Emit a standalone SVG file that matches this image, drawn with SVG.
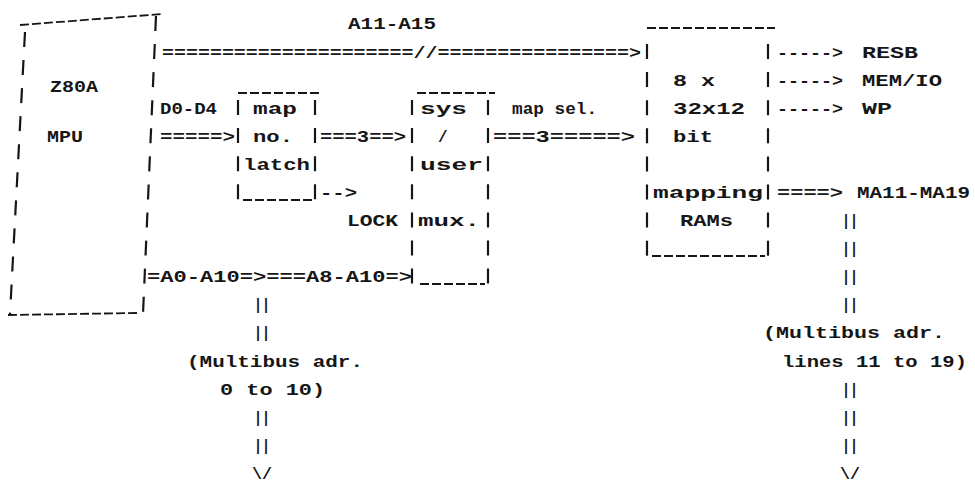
<svg xmlns="http://www.w3.org/2000/svg" width="975" height="494" viewBox="0 0 975 494">
<style>
.t{font-family:"Liberation Mono","DejaVu Sans Mono",monospace;font-size:16px;font-weight:bold;fill:#161616}
.w{stroke:#161616;stroke-width:2.2;fill:none;stroke-dasharray:15 13.1}
.h{stroke:#161616;stroke-width:1.8;fill:none;stroke-dasharray:9 3}
</style>
<rect width="975" height="494" fill="#fff"/>
<g id="z80a">
<line class="h" x1="20" y1="25" x2="162" y2="14"/>
<line class="w" x1="25" y1="32" x2="10" y2="314"/>
<line class="w" x1="156" y1="16" x2="143" y2="314"/>
<line class="h" x1="8" y1="315" x2="138" y2="313"/>
<text class="t" x="50" y="92" textLength="48" lengthAdjust="spacingAndGlyphs">Z80A</text>
<text class="t" x="47" y="142" textLength="36" lengthAdjust="spacingAndGlyphs">MPU</text>
</g>
<g id="map-latch">
<line class="h" x1="238" y1="93" x2="320" y2="93"/>
<line class="w" x1="238" y1="100" x2="238" y2="202"/>
<line class="w" x1="315" y1="100" x2="315" y2="202"/>
<line class="h" x1="243" y1="200" x2="312" y2="200"/>
<text class="t" x="253" y="114" textLength="44" lengthAdjust="spacingAndGlyphs">map</text>
<text class="t" x="253" y="142" textLength="40" lengthAdjust="spacingAndGlyphs">no.</text>
<text class="t" x="243" y="170" textLength="67" lengthAdjust="spacingAndGlyphs">latch</text>
</g>
<g id="sys-user-mux">
<line class="h" x1="417" y1="93" x2="495" y2="93"/>
<line class="w" x1="412" y1="100" x2="412" y2="286"/>
<line class="w" x1="488" y1="100" x2="488" y2="286"/>
<line class="h" x1="420" y1="284" x2="485" y2="284"/>
<text class="t" x="420" y="114" textLength="47" lengthAdjust="spacingAndGlyphs">sys</text>
<text class="t" x="438" y="142">/</text>
<text class="t" x="420" y="170" textLength="63" lengthAdjust="spacingAndGlyphs">user</text>
<text class="t" x="418" y="226" textLength="62" lengthAdjust="spacingAndGlyphs">mux.</text>
</g>
<g id="mapping-rams">
<line class="h" x1="647" y1="28" x2="775" y2="28"/>
<line class="w" x1="647" y1="44" x2="647" y2="258"/>
<line class="w" x1="768" y1="44" x2="768" y2="258"/>
<line class="h" x1="652" y1="256" x2="765" y2="256"/>
<text class="t" x="673" y="86" textLength="42" lengthAdjust="spacingAndGlyphs">8 x</text>
<text class="t" x="673" y="114" textLength="72" lengthAdjust="spacingAndGlyphs">32x12</text>
<text class="t" x="673" y="142" textLength="40" lengthAdjust="spacingAndGlyphs">bit</text>
<text class="t" x="653" y="198" textLength="110" lengthAdjust="spacingAndGlyphs">mapping</text>
<text class="t" x="680" y="226" textLength="53" lengthAdjust="spacingAndGlyphs">RAMs</text>
</g>
<g id="connectors">
<text class="t" x="348" y="29" textLength="88" lengthAdjust="spacingAndGlyphs">A11-A15</text>
<text class="t" x="162" y="58" textLength="479" lengthAdjust="spacingAndGlyphs">=====================//================&gt;</text>
<text class="t" x="160" y="114" textLength="57" lengthAdjust="spacingAndGlyphs">D0-D4</text>
<text class="t" x="160" y="142" textLength="75" lengthAdjust="spacingAndGlyphs">=====&gt;</text>
<text class="t" x="320" y="142" textLength="86" lengthAdjust="spacingAndGlyphs">===3==&gt;</text>
<text class="t" x="320" y="198" textLength="37" lengthAdjust="spacingAndGlyphs">--&gt;</text>
<text class="t" x="347" y="226" textLength="51" lengthAdjust="spacingAndGlyphs">LOCK</text>
<text class="t" x="512" y="114" textLength="85" lengthAdjust="spacingAndGlyphs">map sel.</text>
<text class="t" x="493" y="142" textLength="142" lengthAdjust="spacingAndGlyphs">===3=====&gt;</text>
<text class="t" x="147" y="282" textLength="265" lengthAdjust="spacingAndGlyphs">=A0-A10=&gt;===A8-A10=&gt;</text>
<text class="t" x="777" y="58" textLength="66" lengthAdjust="spacingAndGlyphs">-----&gt;</text>
<text class="t" x="862" y="58" textLength="56" lengthAdjust="spacingAndGlyphs">RESB</text>
<text class="t" x="777" y="86" textLength="66" lengthAdjust="spacingAndGlyphs">-----&gt;</text>
<text class="t" x="862" y="86" textLength="80" lengthAdjust="spacingAndGlyphs">MEM/IO</text>
<text class="t" x="777" y="114" textLength="66" lengthAdjust="spacingAndGlyphs">-----&gt;</text>
<text class="t" x="862" y="114" textLength="30" lengthAdjust="spacingAndGlyphs">WP</text>
<text class="t" x="777" y="198" textLength="66" lengthAdjust="spacingAndGlyphs">====&gt;</text>
<text class="t" x="857" y="198" textLength="113" lengthAdjust="spacingAndGlyphs">MA11-MA19</text>
<text class="t" x="842" y="226" textLength="16" lengthAdjust="spacingAndGlyphs">||</text>
<text class="t" x="842" y="254" textLength="16" lengthAdjust="spacingAndGlyphs">||</text>
<text class="t" x="842" y="282" textLength="16" lengthAdjust="spacingAndGlyphs">||</text>
<text class="t" x="842" y="310" textLength="16" lengthAdjust="spacingAndGlyphs">||</text>
<text class="t" x="763" y="338" textLength="182" lengthAdjust="spacingAndGlyphs">(Multibus adr.</text>
<text class="t" x="782" y="367" textLength="185" lengthAdjust="spacingAndGlyphs">lines 11 to 19)</text>
<text class="t" x="842" y="395" textLength="16" lengthAdjust="spacingAndGlyphs">||</text>
<text class="t" x="842" y="423" textLength="16" lengthAdjust="spacingAndGlyphs">||</text>
<text class="t" x="842" y="451" textLength="16" lengthAdjust="spacingAndGlyphs">||</text>
<text class="t" x="840" y="479" textLength="20" lengthAdjust="spacingAndGlyphs">\/</text>
<text class="t" x="254" y="310" textLength="16" lengthAdjust="spacingAndGlyphs">||</text>
<text class="t" x="254" y="338" textLength="16" lengthAdjust="spacingAndGlyphs">||</text>
<text class="t" x="187" y="367" textLength="176" lengthAdjust="spacingAndGlyphs">(Multibus adr.</text>
<text class="t" x="220" y="395" textLength="105" lengthAdjust="spacingAndGlyphs">0 to 10)</text>
<text class="t" x="254" y="423" textLength="16" lengthAdjust="spacingAndGlyphs">||</text>
<text class="t" x="254" y="451" textLength="16" lengthAdjust="spacingAndGlyphs">||</text>
<text class="t" x="252" y="479" textLength="20" lengthAdjust="spacingAndGlyphs">\/</text>
</g>
</svg>
